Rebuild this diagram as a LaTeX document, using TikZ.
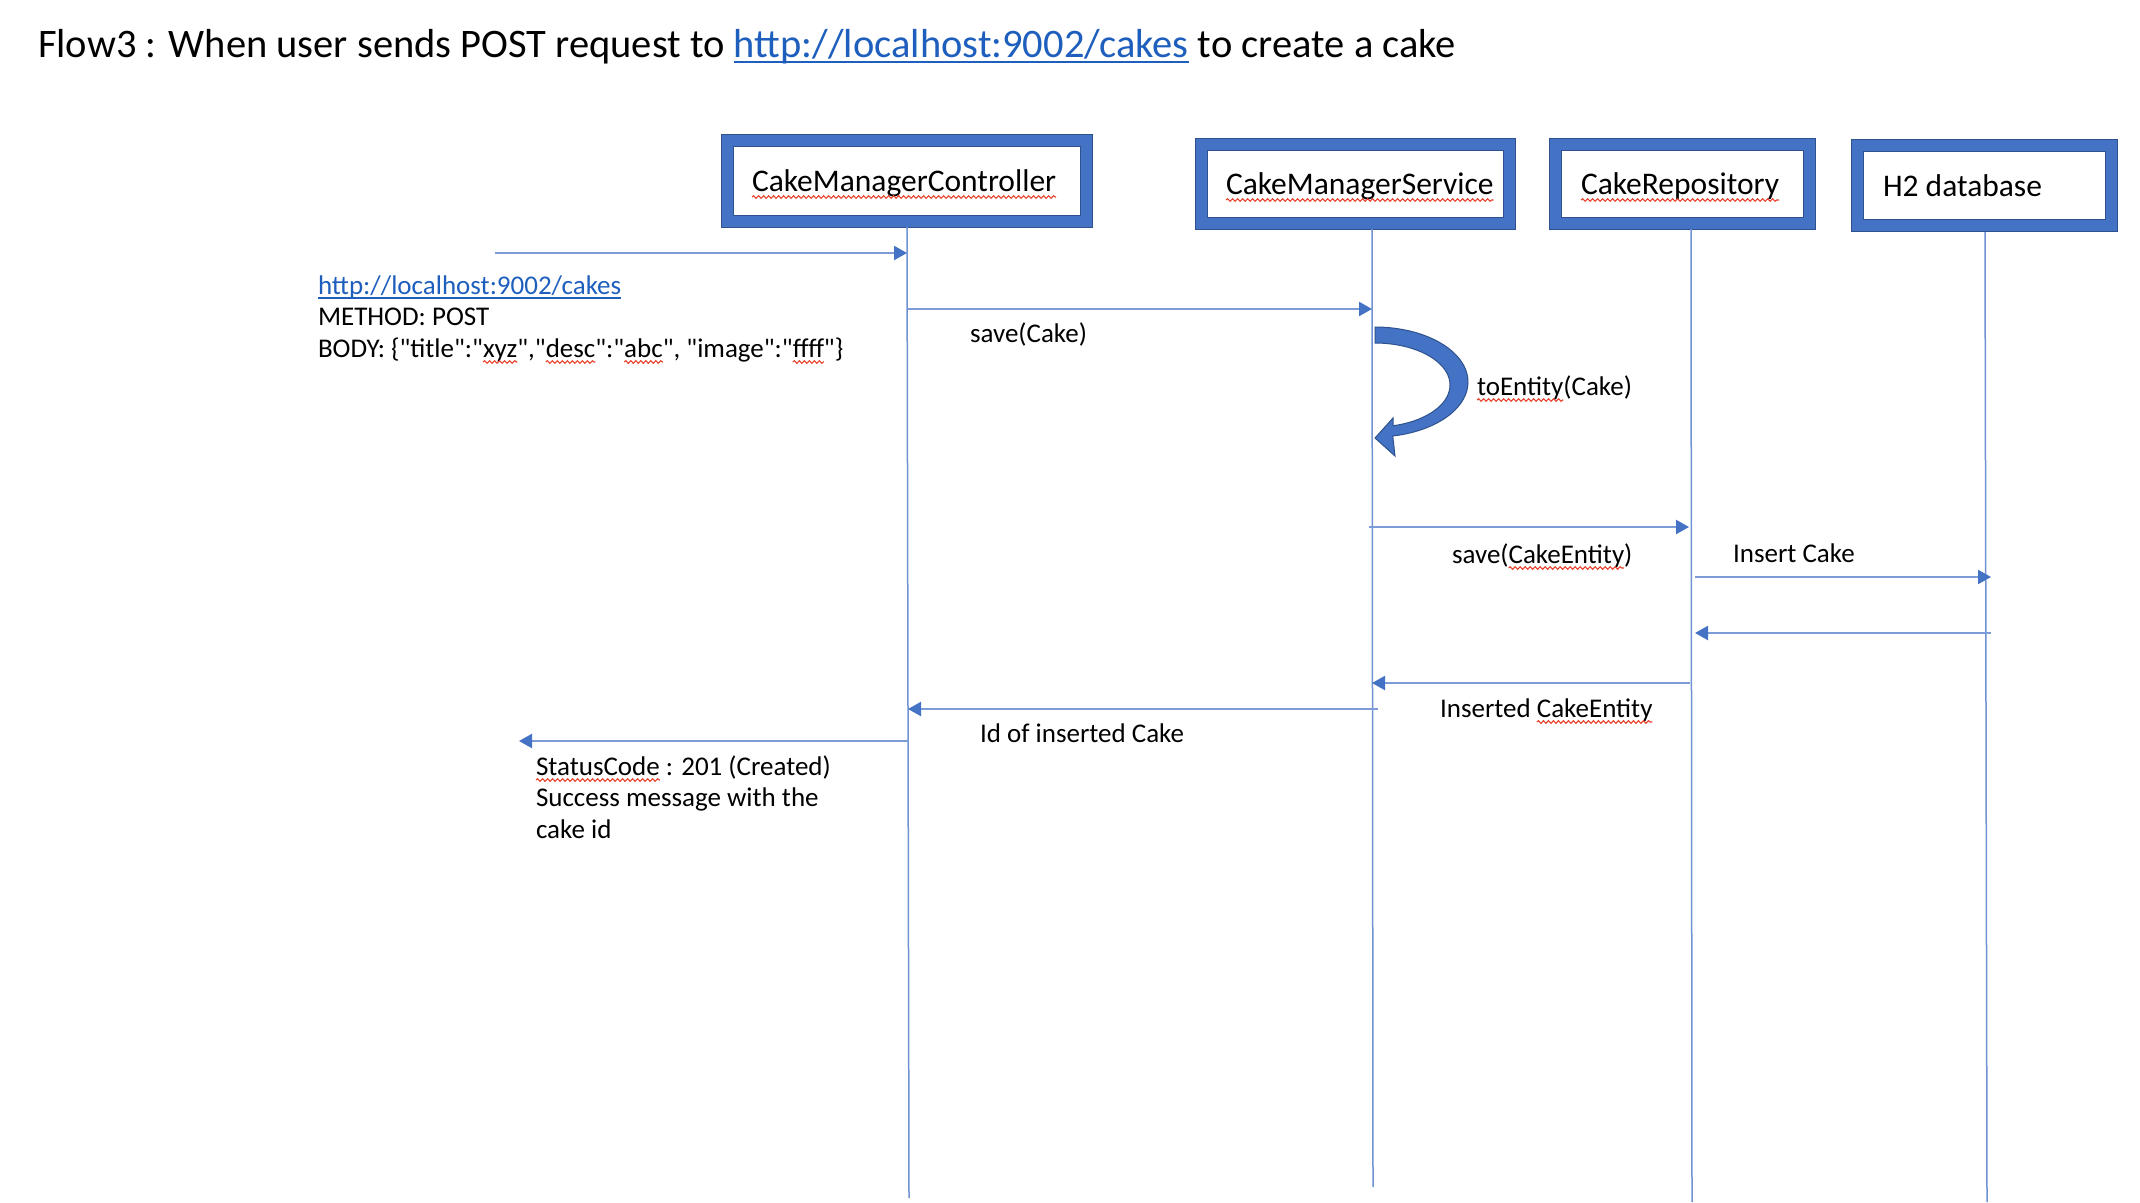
\documentclass[tikz,border=0pt]{standalone}
\usepackage{fontspec}
\setmainfont{Carlito}[Ligatures=TeXOff]
\usetikzlibrary{arrows.meta,decorations.pathmorphing}
\definecolor{boxfill}{RGB}{68,114,196}
\definecolor{boxline}{RGB}{47,82,143}
\definecolor{lifeblue}{RGB}{112,146,210}
\definecolor{shaftblue}{RGB}{125,155,214}
\definecolor{headblue}{RGB}{68,114,196}
\definecolor{linkblue}{RGB}{30,95,190}
\definecolor{squigred}{RGB}{232,65,45}
\newcommand\bodyfont{\fontsize{27}{31.5}\selectfont}
\newcommand\boxfont{\fontsize{31.5}{38}\selectfont}
\newcommand\titlefont{\fontsize{40.5}{48}\selectfont}
\begin{document}
\begin{tikzpicture}[x=1pt,y=-1pt,
  lbl/.style={inner sep=0pt, outer sep=0pt, anchor=base west, font=\bodyfont, text=black},
  ttl/.style={inner sep=0pt, outer sep=0pt, anchor=base west, font=\titlefont, text=black},
  boxlbl/.style={inner sep=0pt, outer sep=0pt, anchor=base west, font=\boxfont, text=black},
  participant/.style={draw=boxline, fill=boxfill, line width=1pt, inner sep=0pt},
  msg/.style={draw=shaftblue, line width=2.2pt, -{Triangle[length=13pt,width=14pt,color=headblue]}},
  life/.style={draw=lifeblue, line width=1.5pt},
  squig/.style={draw=squigred, line width=1.1pt, decorate, decoration={snake, segment length=5pt, amplitude=1.3pt}},
  linkline/.style={draw=linkblue, line width=1.8pt},
]
\useasboundingbox (0,0) rectangle (2140,1202);
\fill[white] (0,0) rectangle (2140,1202);

% ---------- title ----------
\node[ttl] (t1) at (38,57) {Flow3 : When user sends POST request to\ \hbox{}};
\node[ttl, text=linkblue] (t2) at (t1.base east) {http://localhost:9002/cakes};
\node[ttl] (t3) at (t2.base east) {\ to create a cake};
\draw[linkline, line width=2.6pt] ([yshift=-5pt]t2.base west) -- ([yshift=-5pt]t2.base east);

% ---------- participants ----------
\newcommand\partbox[5]{%
  \node[participant, minimum width=#4pt, minimum height=#5pt] (#1) at #2 {};
  \fill[white, draw=boxline, line width=1pt] ([shift={(12.5,12.5)}]#1.north west) rectangle ([shift={(-12.5,-12.5)}]#1.south east);
}
\partbox{ctrl}{(906.5,180.5)}{}{371}{93}
\partbox{svc}{(1355.5,183.5)}{}{320}{91}
\partbox{repo}{(1682.5,183.5)}{}{266}{91}
\partbox{db}{(1984.5,185.5)}{}{266}{92}

\node[boxlbl] (ctrlT) at (752,191) {CakeManagerController};
\node[boxlbl] (svcT) at (1226,194) {CakeManagerService};
\node[boxlbl] (repoT) at (1581,194) {CakeRepository};
\node[boxlbl] (dbT) at (1883,196) {H2 database};
\foreach \w in {ctrlT,svcT,repoT}
  \draw[squig] ([yshift=-6pt]\w.base west) -- ([yshift=-6pt]\w.base east);

% ---------- lifelines ----------
\coordinate (ctrlTop) at (907,227);  \coordinate (ctrlBot) at (909,1198);
\coordinate (svcTop) at (1372,229);  \coordinate (svcBot) at (1373,1187);
\coordinate (repoTop) at (1691,229); \coordinate (repoBot) at (1692,1202);
\coordinate (dbTop) at (1985,232);   \coordinate (dbBot) at (1987,1202);
\draw[life] (ctrlTop) -- (ctrlBot);
\draw[life] (svcTop) -- (svcBot);
\draw[life] (repoTop) -- (repoBot);
\draw[life] (dbTop) -- (dbBot);

% ---------- messages ----------
\coordinate (userA) at (495,253);  \coordinate (ctrlA) at (907,253);
\draw[msg] (userA) -- (ctrlA);
\coordinate (ctrlB) at (908,309);  \coordinate (svcB) at (1372,309);
\draw[msg] (ctrlB) -- (svcB);
\coordinate (svcC) at (1369,527);  \coordinate (repoC) at (1689,527);
\draw[msg] (svcC) -- (repoC);
\coordinate (repoD) at (1695,577); \coordinate (dbD) at (1991,577);
\draw[msg] (repoD) -- (dbD);
\coordinate (dbE) at (1991,633);   \coordinate (repoE) at (1695,633);
\draw[msg] (dbE) -- (repoE);
\coordinate (repoF) at (1690,683); \coordinate (svcF) at (1372,683);
\draw[msg] (repoF) -- (svcF);
\coordinate (svcG) at (1378,709);  \coordinate (ctrlG) at (908,709);
\draw[msg] (svcG) -- (ctrlG);
\coordinate (ctrlH) at (909,741);  \coordinate (userH) at (519,741);
\draw[msg] (ctrlH) -- (userH);

% ---------- self call (curved block arrow) ----------
\fill[boxfill, draw=boxline, line width=1pt]
  plot[domain=90:-79, samples=40, variable=\t] ({1375+93*cos(\t)}, {382-55*sin(\t)})
  -- (1395,456) -- (1375,438) -- (1393,418)
  -- plot[domain=-76:90, samples=40, variable=\t] ({1375+75*cos(\t)}, {385-42*sin(\t)})
  -- cycle;

% ---------- labels ----------
\node[lbl, text=linkblue] (url) at (318,294) {http://localhost:9002/cakes};
\draw[linkline] ([yshift=-4pt]url.base west) -- ([yshift=-4pt]url.base east);
\node[lbl] (meth) at (318,325.5) {METHOD: POST};
\node[lbl] (b1) at (318,357) {BODY: \{"title":"};
\node[lbl] (b2) at (b1.base east) {xyz};
\node[lbl] (b3) at (b2.base east) {","};
\node[lbl] (b4) at (b3.base east) {desc};
\node[lbl] (b5) at (b4.base east) {":"};
\node[lbl] (b6) at (b5.base east) {abc};
\node[lbl] (b7) at (b6.base east) {", "image":"};
\node[lbl] (b8) at (b7.base east) {ffff};
\node[lbl] (b9) at (b8.base east) {"\}};
\foreach \w in {b2,b4,b6,b8}
  \draw[squig] ([yshift=-5pt]\w.base west) -- ([yshift=-5pt]\w.base east);

\node[lbl] (saveCake) at (970,342) {save(Cake)};

\node[lbl] (toE1) at (1477,395) {toEntity};
\node[lbl] (toE2) at (toE1.base east) {(Cake)};
\draw[squig] ([yshift=-5pt]toE1.base west) -- ([yshift=-5pt]toE1.base east);

\node[lbl] (sce1) at (1452,563) {save(};
\node[lbl] (sce2) at (sce1.base east) {CakeEntity};
\node[lbl] (sce3) at (sce2.base east) {)};
\draw[squig] ([yshift=-5pt]sce2.base west) -- ([yshift=-5pt]sce2.base east);

\node[lbl] (ins) at (1733,562) {Insert Cake};

\node[lbl] (ice1) at (1440,717) {Inserted\ \hbox{}};
\node[lbl] (ice2) at (ice1.base east) {CakeEntity};
\draw[squig] ([yshift=-5pt]ice2.base west) -- ([yshift=-5pt]ice2.base east);

\node[lbl] (idc) at (980,742) {Id of inserted Cake};

\node[lbl] (sc1) at (536,775) {StatusCode};
\node[lbl] (sc2) at (sc1.base east) {\ : 201 (Created)};
\draw[squig] ([yshift=-5pt]sc1.base west) -- ([yshift=-5pt]sc1.base east);
\node[lbl] (sc3) at (536,806.5) {Success message with the};
\node[lbl] (sc4) at (536,838) {cake id};
\end{tikzpicture}
\end{document}
